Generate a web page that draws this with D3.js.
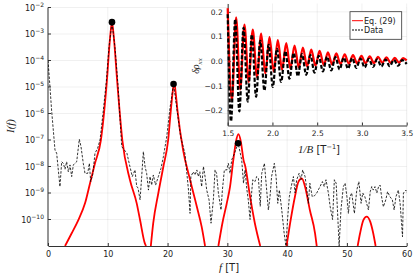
<!DOCTYPE html>
<html>
<head>
<meta charset="utf-8">
<script src="https://cdn.jsdelivr.net/npm/d3@7"></script>
<style>
  body { margin: 0; background: #fff; }
  text { font-family: "DejaVu Sans", sans-serif; fill: #222; }
  .tex { font-family: "Liberation Serif", "DejaVu Serif", serif; font-style: italic; }
</style>
</head>
<body>
<div id="chart"></div>
<script>
// main panel: Fourier spectrum, log10 of I(f)
const dataF = [0, 0.3, 0.6, 1.17, 1.45, 2.0, 2.29, 2.56, 2.85, 3.12, 3.4, 3.68, 3.96, 4.24, 4.5, 4.8, 5.24, 5.52, 5.9, 6.19, 6.64, 6.92, 7.14, 7.47, 7.86, 8.3, 8.7, 9.26, 9.75, 10.2, 10.7, 11.2, 11.7, 12.33, 13.2, 13.7, 14.1, 14.55, 14.84, 15.05, 15.4, 15.67, 15.95, 16.23, 16.5, 16.8, 17.07, 17.34, 17.62, 18.0, 18.46, 18.9, 19.3, 19.86, 20.4, 21.0, 21.6, 22.2, 22.9, 23.5, 23.76, 23.9, 24.3, 24.6, 24.9, 25.15, 25.4, 25.7, 26.0, 26.27, 26.55, 26.94, 27.27, 27.66, 27.94, 28.2, 28.5, 28.94, 29.17, 29.5, 29.9, 30.17, 30.45, 30.73, 31.2, 31.8, 32.4, 32.7, 32.96, 33.24, 33.5, 33.8, 33.96, 34.25, 34.63, 34.9, 35.2, 35.5, 35.75, 36.2, 36.6, 36.86, 37.14, 37.4, 37.86, 38.15, 38.43, 38.7, 39.1, 39.5, 39.8, 40.1, 40.37, 40.8, 41.05, 41.33, 41.6, 42.0, 42.33, 42.6, 43.0, 43.3, 43.55, 43.8, 44.2, 44.6, 44.95, 45.2, 45.5, 45.9, 46.2, 46.5, 46.9, 47.2, 47.6, 47.9, 48.2, 48.47, 48.7, 49.0, 49.4, 49.7, 50.0, 50.25, 50.5, 50.8, 51.25, 51.65, 52.0, 52.37, 52.65, 53.0, 53.3, 53.6, 53.9, 54.15, 54.4, 54.7, 55.0, 55.3, 55.55, 55.8, 56.1, 56.5, 56.8, 57.2, 57.6, 57.9, 58.2, 58.6, 58.9, 59.3, 59.45, 59.9, 60];
const dataLogI = [-4.0, -4.9, -5.87, -7.38, -7.5, -8.76, -7.82, -7.88, -8.1, -7.82, -8.2, -7.94, -8.38, -7.94, -7.88, -7.82, -6.97, -7.25, -7.88, -8.26, -8.26, -7.88, -8.57, -8.32, -7.5, -7.31, -7.0, -5.87, -4.8, -3.5, -2.56, -3.5, -4.9, -7.25, -7.5, -8.0, -8.38, -8.13, -8.76, -8.8, -9.26, -8.38, -7.44, -8.0, -8.26, -8.89, -8.38, -8.7, -8.32, -8.7, -8.38, -8.07, -7.63, -6.88, -5.8, -4.89, -5.9, -6.9, -7.5, -8.89, -9.77, -8.38, -8.2, -8.32, -8.13, -8.38, -8.2, -8.76, -8.0, -8.38, -8.89, -9.26, -10.14, -9.26, -8.13, -8.26, -9.0, -9.64, -8.89, -8.13, -8.13, -7.88, -8.26, -7.75, -7.5, -7.12, -7.75, -8.63, -8.13, -8.82, -9.26, -10.0, -9.26, -8.5, -8.57, -8.38, -8.45, -9.5, -8.26, -7.88, -8.95, -9.64, -9.14, -8.38, -7.88, -8.38, -9.39, -8.89, -9.64, -10.52, -11.0, -9.9, -9.14, -8.63, -8.38, -9.0, -8.5, -8.26, -8.5, -8.13, -8.38, -8.89, -9.39, -8.63, -9.14, -9.1, -9.0, -8.89, -8.76, -8.57, -8.76, -8.5, -9.0, -9.52, -10.0, -8.5, -8.63, -9.89, -11.0, -9.64, -8.76, -8.63, -9.14, -9.77, -9.14, -9.0, -9.77, -8.89, -8.57, -9.39, -9.0, -9.14, -9.39, -9.64, -8.95, -8.76, -8.89, -8.76, -9.0, -8.76, -8.7, -9.14, -9.52, -9.26, -8.95, -9.14, -9.26, -9.64, -9.14, -8.89, -9.39, -10.65, -9.0, -8.89, -9.0];

// Eq. (29) spectrum, null = gap where it drops below the axis
const modelF = [2.85, 3.96, 5.07, 6.19, 7.03, 7.86, 8.85, 9.82, 10.4, 10.7, 11.0, 11.6, 12.43, 13.7, 14.84, 15.4, 16.2, 16.4, null,
  17.2, 17.6, 18.46, 19.3, 20.1, 20.55, 20.85, 21.1, 21.35, 21.65, 22.6, 23.76, 24.9, 25.7, 26.27, null,
  28.5, 29.17, 29.9, 30.45, 31.0, 31.45, 31.85, 32.25, 32.7, 33.0, 33.8, 34.6, 35.5, null,
  39.9, 40.5, 41.3, 41.9, 42.45, 43.0, 43.8, 44.67, 44.95, null,
  51.8, 52.2, 52.75, 53.3, 53.9, 54.4, 54.8];
const modelLogI = [-11, -10.52, -10.02, -9.39, -8.63, -7.88, -7.0, -4.86, -3.1, -2.55, -3.1, -4.86, -7.0, -8.5, -9.39, -10.02, -10.9, -11, null,
  -11, -10.14, -9.0, -8.0, -7.0, -5.87, -5.2, -4.8, -5.2, -5.87, -7.38, -8.5, -9.52, -10.27, -11, null,
  -11, -10.14, -9.39, -8.76, -7.75, -7.05, -6.78, -7.05, -7.75, -8.0, -9.14, -10.14, -11, null,
  -11, -10.14, -9.14, -8.57, -8.45, -8.76, -9.64, -10.52, -11, null,
  -11, -10.52, -10.02, -9.89, -10.08, -10.52, -11];

const peakF = [10.7, 21.0, 31.8];
const peakI = [2.8e-3, 1.3e-5, 7.5e-8];

const xTicks = [0, 10, 20, 30, 40, 50, 60];
const yTickExp = [-2, -3, -4, -5, -6, -7, -8, -9, -10];

// inset: delta rho_xx vs 1/B (extrema of the oscillations)
const insetModelX = [1.5, 1.547, 1.594, 1.64, 1.687, 1.734, 1.78, 1.827, 1.874, 1.92, 1.967, 2.014, 2.06, 2.107, 2.154, 2.2, 2.247, 2.294, 2.34, 2.387, 2.434, 2.48, 2.527, 2.574, 2.62, 2.667, 2.714, 2.76, 2.807, 2.854, 2.9, 2.947, 2.994, 3.04, 3.087, 3.134, 3.18, 3.227, 3.274, 3.32, 3.367, 3.414, 3.46, 3.5];
const insetModelY = [0.215, -0.16, 0.178, -0.115, 0.148, -0.085, 0.128, -0.065, 0.112, -0.052, 0.097, -0.042, 0.085, -0.035, 0.073, -0.03, 0.063, -0.026, 0.055, -0.022, 0.047, -0.019, 0.041, -0.016, 0.035, -0.014, 0.031, -0.012, 0.027, -0.011, 0.024, -0.01, 0.021, -0.009, 0.019, -0.008, 0.017, -0.007, 0.015, -0.007, 0.013, -0.006, 0.012, 0.003];
const insetDataX = [1.5, 1.537, 1.584, 1.63, 1.677, 1.724, 1.77, 1.817, 1.864, 1.91, 1.957, 2.004, 2.05, 2.097, 2.144, 2.19, 2.237, 2.284, 2.33, 2.377, 2.424, 2.47, 2.517, 2.564, 2.61, 2.657, 2.704, 2.75, 2.797, 2.844, 2.89, 2.937, 2.984, 3.03, 3.077, 3.124, 3.17, 3.217, 3.264, 3.31, 3.357, 3.404, 3.45, 3.5];
const insetDataY = [0.19, -0.245, 0.17, -0.205, 0.135, -0.165, 0.108, -0.145, 0.082, -0.12, 0.066, -0.105, 0.05, -0.085, 0.04, -0.072, 0.033, -0.062, 0.028, -0.056, 0.024, -0.047, 0.021, -0.042, 0.018, -0.038, 0.016, -0.034, 0.014, -0.031, 0.012, -0.028, 0.01, -0.026, 0.009, -0.024, 0.007, -0.022, 0.006, -0.021, 0.005, -0.019, 0.004, -0.012];

const insetXTicks = [1.5, 2.0, 2.5, 3.0, 3.5];
const insetYTicks = [0.2, 0.1, 0.0, -0.1, -0.2];
const legendLabels = ["Eq. (29)", "Data"];

const width = 415, height = 277;
const svg = d3.select("#chart").append("svg")
    .attr("width", width)
    .attr("height", height);

// scales
const x = d3.scaleLinear().domain([0, 60]).range([48, 406.7]);
const y = d3.scaleLog().domain([1e-11, 1e-2]).range([246, 7.5]);

svg.append("defs").append("clipPath").attr("id", "mainclip")
    .append("rect")
    .attr("x", x(0)).attr("y", y(1e-2))
    .attr("width", x(60) - x(0)).attr("height", y(1e-11) - y(1e-2));

// grid
const grid = svg.append("g").attr("stroke", "#000").attr("stroke-opacity", 0.1).attr("stroke-width", 0.6);
grid.selectAll(".gx").data(xTicks).join("line")
    .attr("x1", d => x(d)).attr("x2", d => x(d))
    .attr("y1", y(1e-11)).attr("y2", y(1e-2));
grid.selectAll(".gy").data(yTickExp).join("line")
    .attr("x1", x(0)).attr("x2", x(60))
    .attr("y1", d => y(10 ** d)).attr("y2", d => y(10 ** d));

// axes
const xAxis = d3.axisBottom(x).tickValues(xTicks).tickSize(0).tickPadding(5);
const gx = svg.append("g").attr("transform", `translate(0,${y(1e-11)})`).call(xAxis);
gx.select(".domain").attr("stroke", "#333");
gx.selectAll("text").style("font-size", "8px").attr("fill", "#222");
gx.selectAll(".tick").append("line").attr("y2", -3).attr("stroke", "#333");

const gy = svg.append("g").attr("transform", `translate(${x(0)},0)`);
gy.append("line").attr("y1", y(1e-11)).attr("y2", y(1e-2)).attr("stroke", "#333");
gy.selectAll(".tk").data(yTickExp).join("line")
    .attr("x1", 0).attr("x2", 3)
    .attr("y1", d => y(10 ** d)).attr("y2", d => y(10 ** d))
    .attr("stroke", "#333");
const yl = gy.selectAll(".lbl").data(yTickExp).join("text")
    .attr("x", -4).attr("y", d => y(10 ** d) + 3)
    .attr("text-anchor", "end")
    .style("font-size", "8px");
yl.append("tspan").text("10");
yl.append("tspan").attr("dy", -4).style("font-size", "6px").text(d => "\u2212" + Math.abs(d));

// axis titles
svg.append("text").attr("class", "tex")
    .attr("transform", `translate(14,126) rotate(-90)`)
    .attr("text-anchor", "middle")
    .style("font-size", "11px")
    .text("I(f)");
const xt = svg.append("text").attr("x", 229).attr("y", 271).attr("text-anchor", "middle").style("font-size", "10px");
xt.append("tspan").attr("class", "tex").style("font-size", "11px").text("f");
xt.append("tspan").text(" [T]");

// model spectrum
const plot = svg.append("g").attr("clip-path", "url(#mainclip)");
const modelLine = d3.line()
    .defined((d, i) => modelF[i] !== null)
    .x((d, i) => x(modelF[i]))
    .y((d, i) => y(10 ** modelLogI[i]))
    .curve(d3.curveMonotoneX);
plot.append("path")
    .attr("d", modelLine(modelF))
    .attr("fill", "none").attr("stroke", "#ff0000").attr("stroke-width", 1.8);

// data spectrum
const dataLine = d3.line()
    .x((d, i) => x(dataF[i]))
    .y((d, i) => y(10 ** dataLogI[i]));
plot.append("path")
    .attr("d", dataLine(dataF))
    .attr("fill", "none").attr("stroke", "#000").attr("stroke-width", 0.8)
    .attr("stroke-dasharray", "2.5,1.5");

// peak markers
svg.selectAll(".peak").data(peakF).join("circle")
    .attr("cx", d => x(d))
    .attr("cy", (d, i) => y(peakI[i]))
    .attr("r", 3.3)
    .attr("fill", "#000");

// ---- inset ----
const ix = d3.scaleLinear().domain([1.5, 3.5]).range([227.7, 406.7]);
const iy = d3.scaleLinear().domain([-0.262, 0.234]).range([125.5, 3.5]);

const inset = svg.append("g");
inset.append("rect")
    .attr("x", ix(1.5)).attr("y", iy(0.234))
    .attr("width", ix(3.5) - ix(1.5)).attr("height", iy(-0.262) - iy(0.234))
    .attr("fill", "#fff");

const igrid = inset.append("g").attr("stroke", "#000").attr("stroke-opacity", 0.1).attr("stroke-width", 0.6);
igrid.selectAll(".gx").data(insetXTicks).join("line")
    .attr("x1", d => ix(d)).attr("x2", d => ix(d))
    .attr("y1", iy(-0.262)).attr("y2", iy(0.234));
igrid.selectAll(".gy").data(insetYTicks).join("line")
    .attr("x1", ix(1.5)).attr("x2", ix(3.5))
    .attr("y1", d => iy(d)).attr("y2", d => iy(d));

const iax = inset.append("g").attr("transform", `translate(0,${iy(-0.262)})`)
    .call(d3.axisBottom(ix).tickValues(insetXTicks).tickFormat(d3.format(".1f")).tickSize(0).tickPadding(5));
iax.select(".domain").attr("stroke", "#333");
iax.selectAll("text").style("font-size", "7.5px").attr("fill", "#222");
iax.selectAll(".tick").append("line").attr("y2", -3).attr("stroke", "#333");

const iay = inset.append("g").attr("transform", `translate(${ix(1.5)},0)`)
    .call(d3.axisLeft(iy).tickValues(insetYTicks).tickFormat(d => d3.format(".1f")(d).replace("-", "\u2212")).tickSize(0).tickPadding(5));
iay.select(".domain").attr("stroke", "#333");
iay.selectAll("text").style("font-size", "7.5px").attr("fill", "#222");
iay.selectAll(".tick").append("line").attr("x2", 3).attr("stroke", "#333");

// inset titles
const iyt = inset.append("text")
    .attr("transform", "translate(199,66) rotate(-90)")
    .attr("text-anchor", "middle")
    .style("font-size", "10px");
iyt.append("tspan").attr("class", "tex").text("\u03b4\u03c1");
iyt.append("tspan").attr("class", "tex").attr("dy", 2.5).style("font-size", "7px").text("xx");

const ixt = inset.append("text").attr("x", 319).attr("y", 153).attr("text-anchor", "middle").style("font-size", "10px");
ixt.append("tspan").attr("class", "tex").style("font-size", "11px").text("1/B");
ixt.append("tspan").text(" [T");
ixt.append("tspan").attr("dy", -4).style("font-size", "6.5px").text("\u22121");
ixt.append("tspan").attr("dy", 4).text("]");

const insetModelLine = d3.line()
    .x((d, i) => ix(insetModelX[i]))
    .y((d, i) => iy(insetModelY[i]))
    .curve(d3.curveMonotoneX);
inset.append("path")
    .attr("d", insetModelLine(insetModelX))
    .attr("fill", "none").attr("stroke", "#ff0000").attr("stroke-width", 2.2);

const insetDataLine = d3.line()
    .x((d, i) => ix(insetDataX[i]))
    .y((d, i) => iy(insetDataY[i]))
    .curve(d3.curveMonotoneX);
inset.append("path")
    .attr("d", insetDataLine(insetDataX))
    .attr("fill", "none").attr("stroke", "#000").attr("stroke-width", 2.2)
    .attr("stroke-dasharray", "4,2");

// legend
const lg = inset.append("g").attr("transform", "translate(350,11.7)");
lg.append("rect").attr("width", 51.7).attr("height", 27.6)
    .attr("fill", "#fff").attr("stroke", "#333").attr("stroke-width", 0.8);
const rows = lg.selectAll(".row").data(legendLabels).join("g")
    .attr("transform", (d, i) => `translate(0,${9 + i * 9.3})`);
rows.append("line").attr("x1", 2).attr("x2", 13)
    .attr("stroke", (d, i) => i === 0 ? "#ff0000" : "#000")
    .attr("stroke-width", 1)
    .attr("stroke-dasharray", (d, i) => i === 0 ? null : "2,1");
rows.append("text").attr("x", 14).attr("y", 3)
    .style("font-size", "8px")
    .text(d => d);
</script>
</body>
</html>
